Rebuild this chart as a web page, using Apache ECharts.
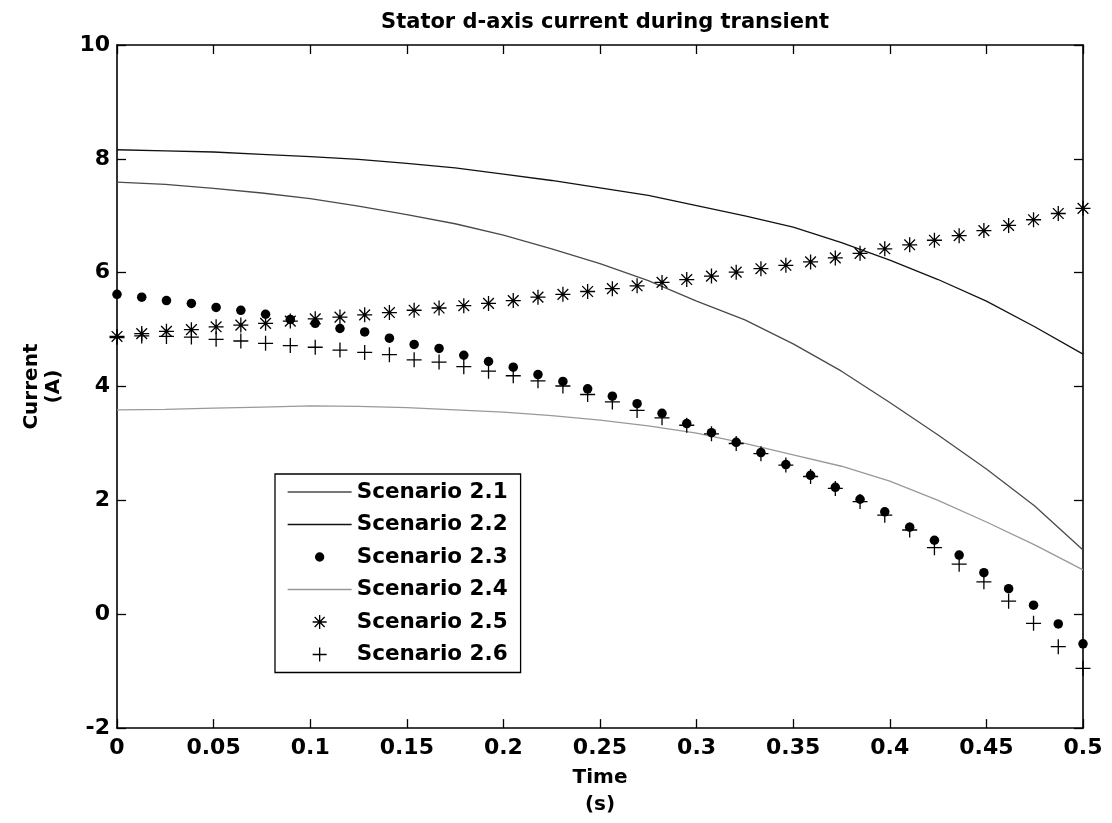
<!DOCTYPE html>
<html>
<head>
<meta charset="utf-8">
<script src="https://cdn.jsdelivr.net/npm/echarts@6/dist/echarts.min.js"></script>
<style>
html,body{margin:0;padding:0;background:#fff;}
#chart{width:1112px;height:823px;}
</style>
</head>
<body>
<div id="chart"></div>
<script>
// ---- data ----
const titleText = 'Stator d-axis current during transient';
const xAxisName = 'Time\n(s)';
const yAxisName = 'Current\n(A)';

// continuous curves (Scenario 2.1, 2.2, 2.4)
const tLine = [0,0.025,0.05,0.075,0.1,0.125,0.15,0.175,0.2,0.225,0.25,0.275,0.3,0.325,0.35,0.375,0.4,0.425,0.45,0.475,0.5];
const s21 = [7.59,7.55,7.48,7.40,7.30,7.17,7.02,6.86,6.66,6.42,6.16,5.86,5.50,5.17,4.75,4.27,3.72,3.15,2.55,1.90,1.13];
const s22 = [8.16,8.14,8.12,8.08,8.04,7.99,7.92,7.84,7.73,7.62,7.49,7.36,7.18,7.00,6.80,6.53,6.22,5.88,5.50,5.05,4.57];
const s24 = [3.59,3.60,3.62,3.64,3.66,3.65,3.63,3.59,3.55,3.49,3.41,3.31,3.18,3.00,2.80,2.60,2.34,2.00,1.62,1.22,0.78];

// marker series (Scenario 2.3, 2.5, 2.6)
const tMark = [0,0.0128,0.0256,0.0385,0.0513,0.0641,0.0769,0.0897,0.1026,0.1154,0.1282,0.1410,0.1538,0.1667,0.1795,0.1923,0.2051,0.2179,0.2308,0.2436,0.2564,0.2692,0.2821,0.2949,0.3077,0.3205,0.3333,0.3462,0.3590,0.3718,0.3846,0.3974,0.4103,0.4231,0.4359,0.4487,0.4615,0.4744,0.4872,0.5];
const s23 = [5.62,5.57,5.51,5.46,5.39,5.34,5.27,5.18,5.11,5.02,4.96,4.85,4.74,4.67,4.55,4.44,4.34,4.21,4.09,3.96,3.83,3.70,3.53,3.35,3.19,3.02,2.84,2.63,2.44,2.23,2.02,1.80,1.53,1.30,1.04,0.73,0.45,0.16,-0.17,-0.52];
const s25 = [4.88,4.93,4.97,5.00,5.05,5.08,5.11,5.15,5.19,5.22,5.26,5.30,5.34,5.38,5.42,5.46,5.51,5.57,5.62,5.67,5.72,5.77,5.83,5.88,5.94,6.01,6.07,6.13,6.19,6.26,6.34,6.42,6.49,6.57,6.65,6.74,6.83,6.93,7.04,7.13];
const s26 = [4.86,4.89,4.88,4.87,4.83,4.80,4.76,4.72,4.69,4.64,4.60,4.56,4.47,4.43,4.35,4.27,4.19,4.10,4.01,3.86,3.73,3.58,3.45,3.32,3.17,3.00,2.82,2.62,2.42,2.21,1.98,1.74,1.48,1.17,0.88,0.57,0.23,-0.16,-0.57,-0.95];

const names = ['Scenario 2.1','Scenario 2.2','Scenario 2.3','Scenario 2.4','Scenario 2.5','Scenario 2.6'];

const pair = (xs, ys) => xs.map((x, i) => [x, ys[i]]);

// ---- symbols ----
const dotSym = 'path://M-4,0A4,4,0,1,1,4,0A4,4,0,1,1,-4,0Z';
const starSym = 'path://M0,-7L0,7M-7,0L7,0M-5,-5L5,5M-5,5L5,-5';
const plusSym = 'path://M0,-7L0,7M-7,0L7,0';
// legend icons padded to a fixed box so that sizes stay like the plot marks
const lineIcon = 'path://M0,-8M64,8M0,0L64,0';
const dotIcon = 'path://M-8,-8M8,8M-4,0A4,4,0,1,1,4,0A4,4,0,1,1,-4,0Z';
const starIcon = 'path://M-8,-8M8,8M0,-7L0,7M-7,0L7,0M-5,-5L5,5M-5,5L5,-5';
const plusIcon = 'path://M-8,-8M8,8M0,-7L0,7M-7,0L7,0';

const FONT = 'DejaVu Sans';
const chart = echarts.init(document.getElementById('chart'), null, {renderer: 'canvas'});

const axisCommon = {
  type: 'value',
  axisLine: {show: true, onZero: false, lineStyle: {color: '#000', width: 1.6}},
  axisTick: {show: true, inside: true, length: 9, lineStyle: {color: '#000', width: 1.3}},
  splitLine: {show: false}
};

const c21 = '#4a4a4a', c22 = '#111', c24 = '#999';

chart.setOption({
  animation: false,
  backgroundColor: '#fff',
  title: {
    text: titleText,
    left: 600, top: 7, textAlign: 'center',
    textStyle: {fontFamily: FONT, fontWeight: 'bold', fontSize: 21, color: '#000'}
  },
  grid: {left: 117, right: 29, top: 45, bottom: 90, containLabel: false},
  legend: {
    orient: 'vertical',
    left: 275, top: 474,
    backgroundColor: '#fff',
    borderColor: '#000', borderWidth: 1.3,
    padding: [7, 13, 7, 12],
    itemWidth: 64, itemHeight: 16, itemGap: 10.5,
    textStyle: {fontFamily: FONT, fontWeight: 'bold', fontSize: 21.5, color: '#000', lineHeight: 22},
    itemStyle: {borderWidth: 1.3},
    data: [
      {name: names[0], icon: lineIcon},
      {name: names[1], icon: lineIcon},
      {name: names[2], icon: dotIcon},
      {name: names[3], icon: lineIcon},
      {name: names[4], icon: starIcon},
      {name: names[5], icon: plusIcon}
    ]
  },
  xAxis: [
    Object.assign({}, axisCommon, {
      position: 'bottom', min: 0, max: 0.5, interval: 0.05,
      name: xAxisName, nameLocation: 'middle', nameGap: 34,
      nameTextStyle: {fontFamily: FONT, fontWeight: 'bold', fontSize: 20, color: '#000', lineHeight: 27},
      axisLabel: {fontFamily: FONT, fontWeight: 'bold', fontSize: 22, color: '#000', margin: 9,
        formatter: v => String(+v.toFixed(2))}
    }),
    Object.assign({}, axisCommon, {
      position: 'top', min: 0, max: 0.5, interval: 0.05,
      axisLabel: {show: false}
    })
  ],
  yAxis: [
    Object.assign({}, axisCommon, {
      position: 'left', min: -2, max: 10, interval: 2,
      name: yAxisName, nameLocation: 'middle', nameGap: 52, nameRotate: 90,
      nameTextStyle: {fontFamily: FONT, fontWeight: 'bold', fontSize: 20, color: '#000', lineHeight: 22},
      axisLabel: {fontFamily: FONT, fontWeight: 'bold', fontSize: 22, color: '#000', margin: 7}
    }),
    Object.assign({}, axisCommon, {
      position: 'right', min: -2, max: 10, interval: 2,
      axisLabel: {show: false}
    })
  ],
  series: [
    {name: names[0], type: 'line', symbol: 'none', smooth: false,
     lineStyle: {color: c21, width: 1.3}, itemStyle: {color: c21, borderColor: c21}, data: pair(tLine, s21), z: 2},
    {name: names[1], type: 'line', symbol: 'none', smooth: false,
     lineStyle: {color: c22, width: 1.3}, itemStyle: {color: c22, borderColor: c22}, data: pair(tLine, s22), z: 2},
    {name: names[2], type: 'scatter', symbol: dotSym, symbolSize: 9.5,
     itemStyle: {color: '#000', borderColor: '#000', borderWidth: 0, opacity: 1}, data: pair(tMark, s23), z: 3},
    {name: names[3], type: 'line', symbol: 'none', smooth: false,
     lineStyle: {color: c24, width: 1.3}, itemStyle: {color: c24, borderColor: c24}, data: pair(tLine, s24), z: 2},
    {name: names[4], type: 'scatter', symbol: starSym, symbolSize: 15,
     itemStyle: {color: '#000', borderColor: '#000', borderWidth: 1.3, opacity: 1}, data: pair(tMark, s25), z: 3},
    {name: names[5], type: 'scatter', symbol: plusSym, symbolSize: 15,
     itemStyle: {color: '#000', borderColor: '#000', borderWidth: 1.3, opacity: 1}, data: pair(tMark, s26), z: 3}
  ]
});
</script>
</body>
</html>
